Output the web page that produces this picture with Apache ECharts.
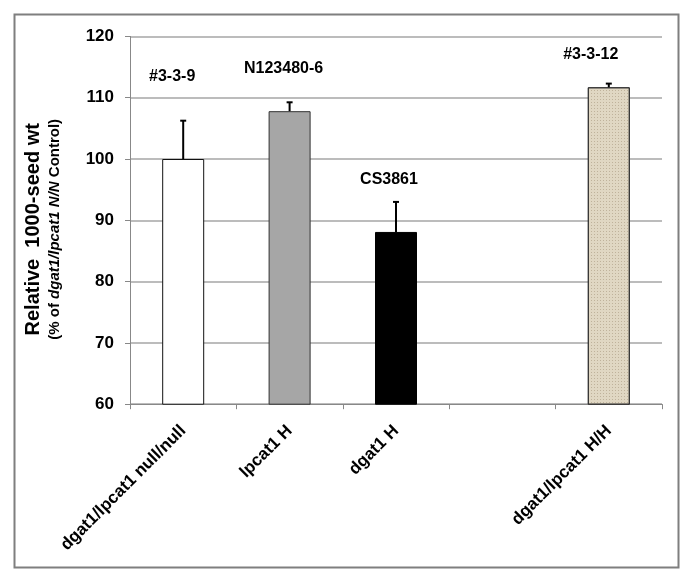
<!DOCTYPE html>
<html>
<head>
<meta charset="utf-8">
<script src="https://cdn.jsdelivr.net/npm/echarts@6/dist/echarts.min.js"></script>
<style>
html,body{margin:0;padding:0;background:#fff;}
#chart{width:685px;height:578px;}
</style>
</head>
<body>
<div id="chart"></div>
<script>
// ---- data ----
const categories = ['dgat1/lpcat1 null/null', 'lpcat1 H', 'dgat1 H', '', 'dgat1/lpcat1 H/H'];
const values = [100, 107.8, 88.1, null, 111.7];
const errors = [6.25, 1.45, 4.9, null, 0.6];
const yTicks = [60, 70, 80, 90, 100, 110, 120];
const annotationText = ['#3-3-9', 'N123480-6', 'CS3861', '#3-3-12'];
const annotationCat = [0, 1, 2, 4];
const annotationY = [113.4, 114.7, 96.7, 117.0];

// ---- styles ----
const FONT = "'Liberation Sans', Arial, sans-serif";
const barStyles = [
  {color: '#ffffff', borderColor: '#111', borderWidth: 1},
  {color: '#a6a6a6', borderColor: '#333', borderWidth: 1},
  {color: '#000000', borderColor: '#000', borderWidth: 1},
  {color: '#ffffff', borderColor: '#111', borderWidth: 1},
  {color: '#e0d7c3', borderColor: '#333', borderWidth: 1,
   decal: {symbol: 'rect', symbolSize: 1, color: 'rgba(130,110,80,0.35)',
           dashArrayX: [1, 2], dashArrayY: [1, 2], rotation: 0}}
];
const annotationOffsets = [[-11, 0], [-6, 0], [-7, 0], [-18, 0]];

const chart = echarts.init(document.getElementById('chart'), null, {renderer: 'canvas'});

const barData = values.map((v, i) => v == null ? null : ({value: v, itemStyle: barStyles[i]}));
const errData = values.map((v, i) => v == null ? null : [i, v, v + errors[i]]).filter(d => d);
const annData = annotationText.map((t, i) => ({
  value: [annotationCat[i], annotationY[i]],
  label: {offset: annotationOffsets[i]}
}));

const option = {
  backgroundColor: '#fff',
  animation: false,
  graphic: [{
    type: 'rect', left: 12, top: 12, z: -1,
    shape: {width: 664, height: 553},
    style: {fill: 'none', stroke: '#7f7f7f', lineWidth: 2}
  }],
  grid: {left: 130, right: 23, top: 36.4, bottom: 173.8, containLabel: false},
  xAxis: {
    type: 'category',
    data: categories,
    axisLine: {lineStyle: {color: '#888', width: 1}},
    axisTick: {show: true, length: 5, lineStyle: {color: '#888'}},
    axisLabel: {
      rotate: 45, interval: 0, margin: 24,
      fontFamily: FONT, fontWeight: 'bold', fontSize: 17, color: '#000'
    },
    splitLine: {show: false}
  },
  yAxis: {
    type: 'value',
    min: yTicks[0], max: yTicks[yTicks.length - 1], interval: 10,
    axisLine: {show: true, lineStyle: {color: '#888', width: 1}},
    axisTick: {show: true, length: 5, lineStyle: {color: '#888'}},
    axisLabel: {fontFamily: FONT, fontWeight: 'bold', fontSize: 17, color: '#000', margin: 16},
    splitLine: {lineStyle: {color: '#a6a6a6', width: 1.5}},
    name: '{a|Relative  1000-seed wt}\n{b|(% of }{c|dgat1/lpcat1 N/N}{b| Control)}',
    nameLocation: 'middle',
    nameRotate: 90,
    nameGap: 66,
    nameTextStyle: {
      padding: [0, 18, 0, 0],
      rich: {
        a: {fontFamily: FONT, fontWeight: 'bold', fontSize: 20, color: '#000', lineHeight: 24},
        b: {fontFamily: FONT, fontWeight: 'bold', fontSize: 15, color: '#000', lineHeight: 19},
        c: {fontFamily: FONT, fontWeight: 'bold', fontStyle: 'italic', fontSize: 15, color: '#000', lineHeight: 19}
      }
    }
  },
  series: [
    {
      type: 'bar',
      data: barData,
      barWidth: 42,
      z: 2
    },
    {
      type: 'custom',
      z: 3,
      data: errData,
      renderItem: function (params, api) {
        const x = api.value(0);
        const p0 = api.coord([x, api.value(1)]);
        const p1 = api.coord([x, api.value(2)]);
        const cap = 3;
        return {
          type: 'group',
          children: [
            {type: 'line', shape: {x1: p0[0], y1: p0[1], x2: p1[0], y2: p1[1]},
             style: {stroke: '#000', lineWidth: 2}},
            {type: 'line', shape: {x1: p1[0] - cap, y1: p1[1], x2: p1[0] + cap, y2: p1[1]},
             style: {stroke: '#000', lineWidth: 2}}
          ]
        };
      }
    },
    {
      type: 'scatter',
      symbolSize: 0,
      data: annData,
      z: 4,
      itemStyle: {opacity: 1},
      label: {
        show: true,
        position: 'inside',
        formatter: function (p) { return annotationText[p.dataIndex]; },
        fontFamily: FONT, fontWeight: 'bold', fontSize: 16, color: '#000'
      }
    }
  ]
};
chart.setOption(option);
</script>
</body>
</html>
